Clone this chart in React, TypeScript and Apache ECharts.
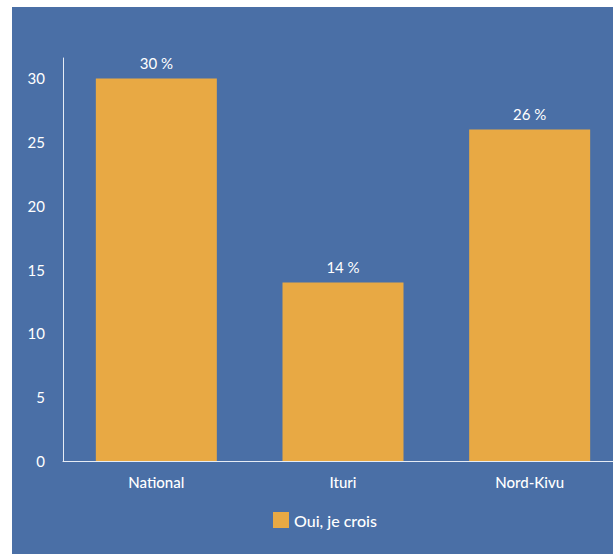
import React, { useEffect, useRef } from "react";
import * as echarts from "echarts";

const categories = ["National", "Ituri", "Nord-Kivu"];
const seriesName = "Oui, je crois";
const values = [30, 14, 26];
const yTicks = [0, 5, 10, 15, 20, 25, 30];

export default function App() {
  const ref = useRef<HTMLDivElement>(null);
  useEffect(() => {
    if (!ref.current) return;
    const chart = echarts.init(ref.current, null, { renderer: "svg" });
    chart.setOption({
      animation: false,
      backgroundColor: "#4a6fa6",
      textStyle: { fontFamily: "Lato" },
      grid: { left: 51, top: 51, width: 560, height: 403, containLabel: false },
      xAxis: {
        type: "category",
        data: categories,
        axisLine: { lineStyle: { color: "#e6ecf5", width: 1 } },
        axisTick: { show: false },
        axisLabel: { color: "#ffffff", fontSize: 15, fontWeight: 500, margin: 13, fontFamily: "Lato" },
      },
      yAxis: {
        type: "value",
        min: 0,
        max: 31.6,
        interval: 5,
        axisLine: { show: true, lineStyle: { color: "#e6ecf5", width: 1 } },
        axisTick: { show: false },
        splitLine: { show: false },
        axisLabel: {
          color: "#ffffff",
          fontSize: 15,
          margin: 18,
          fontFamily: "Lato",
          formatter: (v: number) => (yTicks.includes(v) ? String(v) : ""),
        },
      },
      legend: {
        data: [seriesName],
        top: 505,
        left: 261,
        padding: 0,
        itemWidth: 16,
        itemHeight: 16,
        itemGap: 8,
        icon: "rect",
        textStyle: { color: "#ffffff", fontSize: 16, fontWeight: 500, fontFamily: "Lato" },
      },
      series: [
        {
          name: seriesName,
          type: "bar",
          data: values,
          barWidth: 121,
          itemStyle: { color: "#e8a944" },
          label: {
            show: true,
            position: "top",
            distance: 8,
            color: "#ffffff",
            fontSize: 15,
            fontFamily: "Lato",
            formatter: (p: any) => `${p.value} %`,
          },
        },
      ],
    });
    return () => chart.dispose();
  }, []);
  return (
    <div style={{ position: "fixed", left: 0, top: 0, width: 613, height: 554, background: "#ffffff", overflow: "hidden" }}>
      <div
        ref={ref}
        style={{ position: "absolute", left: 12, top: 7, width: 630, height: 547 }}
      />
    </div>
  );
}
